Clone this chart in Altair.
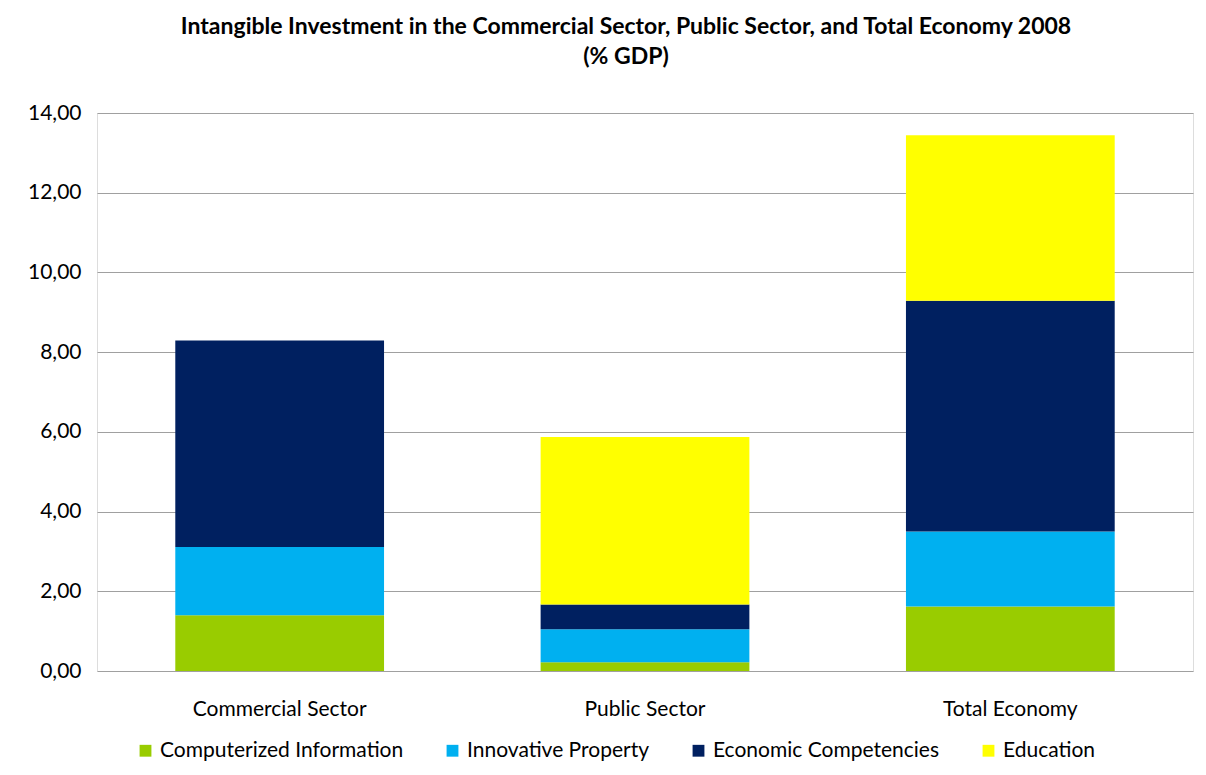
import altair as alt
import pandas as pd

sectors = ["Commercial Sector", "Public Sector", "Total Economy"]
series = ["Computerized Information", "Innovative Property", "Economic Competencies", "Education"]
colors = ["#99CC00", "#00B0F0", "#002060", "#FFFF00"]

computerized = [1.40, 0.22, 1.62]
innovative = [1.71, 0.83, 1.88]
economic = [5.18, 0.62, 5.79]
education = [0.00, 4.20, 4.15]

rows = []
for s_i, vals in enumerate([computerized, innovative, economic, education]):
    for c_i, sec in enumerate(sectors):
        rows.append({"sector": sec, "series": series[s_i], "idx": s_i, "value": vals[c_i]})
df = pd.DataFrame(rows)

FONT = "Lato"

chart = alt.Chart(df).mark_bar(stroke=None).encode(
    x=alt.X("sector:N", sort=sectors, title=None,
            scale=alt.Scale(paddingInner=0.4286, paddingOuter=0.2143),
            axis=alt.Axis(labelAngle=0, labelFontSize=21, labelColor="#000000",
                          labelFont=FONT, domain=False, ticks=False, labelPadding=27)),
    y=alt.Y("value:Q", stack="zero", title=None,
            scale=alt.Scale(domain=[0, 14], nice=False),
            axis=alt.Axis(values=[0, 2, 4, 6, 8, 10, 12, 14],
                          labelExpr="replace(format(datum.value, '.2f'), '.', ',')",
                          labelFontSize=21, labelColor="#000000", labelFont=FONT,
                          domain=False, ticks=False, labelPadding=16,
                          grid=True, gridColor="#A0A0A0", gridWidth=1.2)),
    color=alt.Color("series:N", sort=series,
                    scale=alt.Scale(domain=series, range=colors),
                    legend=alt.Legend(title=None, orient="none", legendX=38, legendY=627,
                                      direction="horizontal", symbolType="square",
                                      symbolSize=140, symbolStrokeWidth=0,
                                      labelFontSize=21, labelFont=FONT, labelColor="#000000",
                                      columnPadding=38, labelOffset=4, labelLimit=400)),
    order=alt.Order("idx:Q", sort="ascending"),
).properties(
    width=1096,
    height=558,
    autosize=alt.AutoSizeParams(type="none"),
    padding={"left": 89, "top": 105, "right": 5, "bottom": 98},
    title=alt.Title(
        ["Intangible Investment in the Commercial Sector, Public Sector, and Total Economy 2008", "(% GDP)"],
        fontSize=23, font=FONT, fontWeight="bold", color="#000000",
        anchor="middle", offset=33, lineHeight=30, dx=-19,
    ),
).configure_view(stroke=None).configure(background="#FFFFFF")

chart.save("out.html", embed_options={"renderer": "svg", "actions": False})
